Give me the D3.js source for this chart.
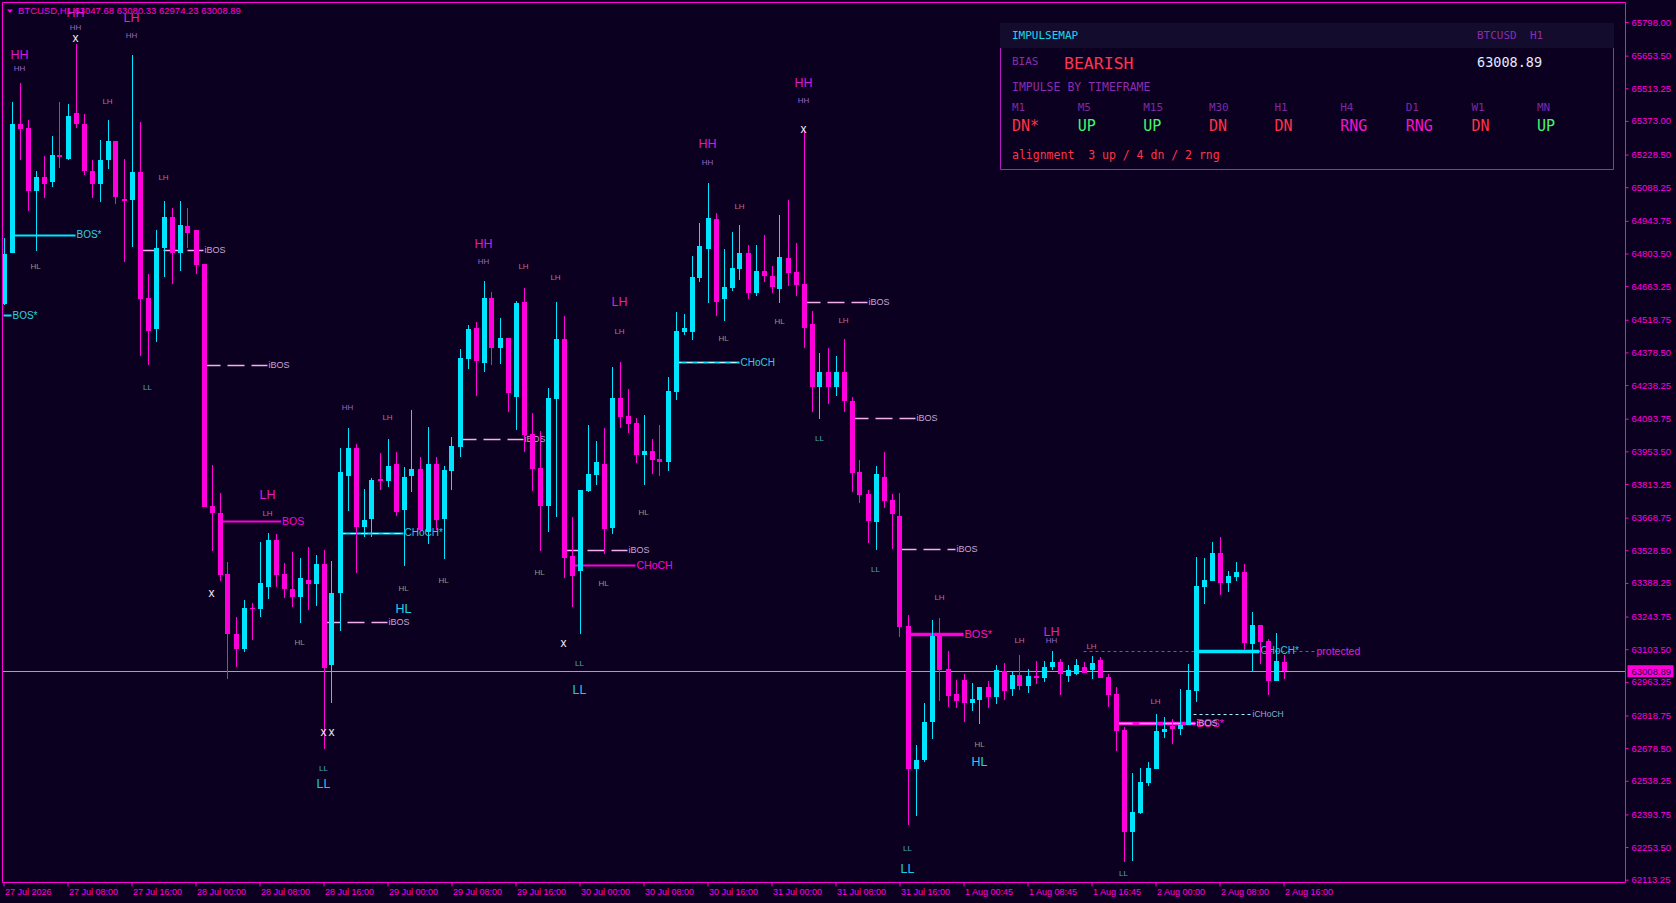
<!DOCTYPE html>
<html>
<head>
<meta charset="utf-8">
<script src="https://cdn.jsdelivr.net/npm/d3@7"></script>
<style>
    html, body { margin: 0; padding: 0; background: #0c0021; overflow: hidden; }
    svg { display: block; }
</style>
</head>
<body>
<svg id="chart" width="1676" height="903"></svg>
<script>
// BTCUSD H1 candles, oldest first
var opens = [64586,64805,65359,65342,65070,65132,65112,65226,65209,65405,65359,65158,65100,65203,65288,65037,65032,65154,64613,64481,
    64825,64960,64804,64921,64905,64758,63718,63688,63427,63169,63106,63282,63278,63371,63572,63425,63361,63326,63400,63385,
    63469,63037,63346,63849,63970,63630,63663,63833,63824,63899,63703,63847,63878,63608,63899,63663,63871,63972,64350,64483,
    64333,64612,64397,64441,64188,64595,64028,63881,63719,64180,64436,63502,63441,63783,63851,63899,63624,64182,64106,64075,
    63936,63955,63921,63907,64209,64466,64466,64698,64822,64951,64608,64656,64737,64805,64635,64729,64706,64651,64784,64724,
    64673,64500,64231,64295,64231,64295,64169,63865,63770,63648,63844,63745,63676,63203,62590,62627,62789,63162,63018,62911,
    62971,62874,62887,62941,62899,63010,62932,62993,62947,62990,62981,63027,63048,62990,62997,63027,63013,63057,62984,62911,
    62756,62320,62401,62529,62589,62748,62774,62761,62778,62925,63371,63396,63517,63388,63414,63435,63127,63207,63139,62968,
    63047.68];
var highs = [64872,65454,65537,65377,65158,65223,65309,65454,65445,65703,65403,65205,65291,65377,65288,65209,65656,65368,64716,64905,
    65030,64998,65030,64998,64905,64758,63895,63774,63478,63241,63315,63301,63564,63603,63597,63474,63521,63496,63543,63508,
    63530,63482,63970,64052,63983,63791,63838,63947,64006,63950,63885,64131,63930,64058,63930,63891,64014,64394,64498,64509,
    64686,64640,64526,64441,64600,64655,64119,64039,64225,64595,64535,63670,63788,64066,63998,64053,64315,64338,64222,64096,
    64109,64007,64066,64272,64552,64544,64792,64935,65107,64977,64822,64895,64926,64840,64840,64883,64749,64969,65034,64848,
    65334,64557,64378,64398,64363,64437,64188,63917,63787,63890,63950,63770,63775,63250,62694,62872,63228,63237,63096,62971,
    62998,62958,62941,62969,63036,63044,63004,63079,63018,63053,63053,63096,63061,63036,63061,63048,63074,63070,62997,62941,
    62768,62570,62592,62617,62824,62811,62804,62932,63040,63500,63495,63564,63585,63439,63478,63469,63263,63207,63147,63173,
    63080.33];
var lows = [64581,64805,65203,64984,64816,65044,65089,65172,65205,65344,65142,65044,65023,65165,65014,64765,64832,64365,64323,64425,
    64704,64674,64730,64828,64716,63716,63524,63397,62975,63027,63090,63143,63243,63318,63372,63322,63283,63218,63274,63291,
    62674,62874,63180,63699,63429,63585,63585,63788,63800,63675,63463,63780,63608,63557,63614,63491,63788,63930,64308,64191,
    64295,64325,64328,64122,64045,63950,63785,63526,63608,63673,63411,63286,63168,63777,63807,63514,63597,64055,64034,63904,
    63808,63856,63848,63871,64174,64455,64431,64681,64590,64535,64514,64644,64690,64608,64621,64681,64635,64590,64663,64621,
    64398,64123,64094,64159,64193,64123,63780,63730,63561,63531,63710,63536,63158,62349,62389,62617,62719,62881,62857,62852,
    62792,62839,62784,62849,62869,62885,62904,62928,62915,62955,62963,63013,62908,62963,62993,63001,62975,62981,62855,62668,
    62191,62195,62395,62517,62589,62722,62696,62735,62778,62877,63299,63396,63336,63349,63396,63100,63007,63041,62908,62968,
    62974.23];
var closes = [64802,65359,65340,65070,65132,65104,65226,65223,65395,65358,65156,65100,65205,65288,65047,65033,65154,64609,64469,64826,
    64960,64804,64926,64890,64756,63716,63687,63424,63169,63106,63280,63278,63389,63573,63424,63360,63326,63408,63385,63469,
    63024,63344,63864,63970,63630,63657,63830,63828,63891,63692,63844,63878,63614,63899,63660,63874,63977,64355,64480,64342,
    64612,64397,64441,64206,64590,64025,63878,63719,64182,64436,63497,63416,63788,63856,63907,63619,64182,64102,64071,63936,
    63955,63918,63907,64212,64471,64484,64703,64835,64956,64597,64660,64741,64805,64635,64729,64706,64660,64789,64719,64668,
    64484,64231,64295,64231,64295,64168,63862,63768,63656,63857,63742,63686,63200,62590,62627,62791,63162,63014,62904,62882,
    62874,62889,62941,62899,63012,62925,62993,62947,62988,62981,63027,63048,62997,63013,63036,63001,63044,62981,62908,62753,
    62320,62403,62531,62592,62752,62761,62761,62778,62928,63375,63401,63517,63388,63418,63435,63131,63207,63136,62967,63053,
    63008.89];

var timeTickBars = [0, 8, 16, 24, 32, 40, 48, 56, 64, 72, 80, 88, 96, 104, 112, 120, 128, 136, 144, 152, 160];
var timeTickLabels = ["27 Jul 2026", "27 Jul 08:00", "27 Jul 16:00", "28 Jul 00:00", "28 Jul 08:00", "28 Jul 16:00",
    "29 Jul 00:00", "29 Jul 08:00", "29 Jul 16:00", "30 Jul 00:00", "30 Jul 08:00", "30 Jul 16:00", "31 Jul 00:00",
    "31 Jul 08:00", "31 Jul 16:00", "1 Aug 00:45", "1 Aug 08:45", "1 Aug 16:45", "2 Aug 00:00", "2 Aug 08:00", "2 Aug 16:00"];

var priceTickLabels = ["65798.00", "65653.50", "65513.25", "65373.00", "65228.50", "65088.25", "64943.75", "64803.50",
    "64663.25", "64518.75", "64378.50", "64238.25", "64093.75", "63953.50", "63813.25", "63668.75", "63528.50", "63388.25",
    "63243.75", "63103.50", "62963.25", "62818.75", "62678.50", "62538.25", "62393.75", "62253.50", "62113.25"];

// swing labels: bar, price, text, kind (b = big, s = small, x = marker)
var swingLabels = [
    [2, 65656, "HH", "b"], [2, 65600, "HH", "s"],
    [9, 65837, "HH", "b"], [9, 65777, "HH", "s"], [9, 65729, "x", "x"],
    [16, 65815, "LH", "b"], [16, 65742, "HH", "s"],
    [13, 65459, "LH", "s"], [4, 64750, "HL", "s"], [20, 65132, "LH", "s"], [18, 64230, "LL", "s"],
    [33, 63766, "LH", "b"], [33, 63689, "LH", "s"], [26, 63345, "x", "x"],
    [43, 64144, "HH", "s"], [48, 64101, "LH", "s"],
    [60, 64845, "HH", "b"], [60, 64771, "HH", "s"], [65, 64750, "LH", "s"],
    [55, 63401, "HL", "s"], [50, 63367, "HL", "s"], [50, 63276, "HL", "b"], [37, 63135, "HL", "s"],
    [40, 62748, "x", "x"], [41, 62748, "x", "x"], [40, 62593, "LL", "s"], [40, 62525, "LL", "b"],
    [67, 63435, "HL", "s"],
    [88, 65274, "HH", "b"], [88, 65197, "HH", "s"], [92, 65008, "LH", "s"], [69, 64703, "LH", "s"],
    [77, 64595, "LH", "b"], [77, 64471, "LH", "s"], [90, 64440, "HL", "s"], [97, 64514, "HL", "s"],
    [80, 63693, "HL", "s"], [75, 63388, "HL", "s"], [70, 63130, "x", "x"],
    [72, 63044, "LL", "s"], [72, 62928, "LL", "b"],
    [100, 65536, "HH", "b"], [100, 65463, "HH", "s"], [100, 65338, "x", "x"],
    [105, 64518, "LH", "s"], [102, 64011, "LL", "s"], [109, 63448, "LL", "s"], [117, 63328, "LH", "s"],
    [122, 62696, "HL", "s"], [122, 62619, "HL", "b"], [113, 62250, "LL", "s"], [113, 62160, "LL", "b"],
    [127, 63143, "LH", "s"], [131, 63178, "LH", "b"], [131, 63143, "HH", "s"], [136, 63117, "LH", "s"],
    [144, 62881, "LH", "s"], [140, 62142, "LL", "s"], [140, 62061, "LL", "b"]
];

// structure breaks: from bar, to bar, price, label, style
var structures = [
    [1, 9, 64883, "BOS*", "solidC"],
    [0, 1, 64539, "BOS*", "solidC"],
    [17, 25, 64818, "iBOS", "dash"],
    [25, 33, 64324, "iBOS", "dash"],
    [27, 34.7, 63654, "BOS", "solidM"],
    [42, 50, 63603, "CHoCH*", "solidC"],
    [42, 50, 63603, "", "dashC"],
    [40, 48, 63220, "iBOS", "dash"],
    [57, 65, 64006, "iBOS", "dash"],
    [70, 78, 63530, "iBOS", "dash"],
    [71, 79, 63465, "CHoCH", "solidM"],
    [84, 92, 64337, "CHoCH", "solidC"],
    [84, 92, 64337, "", "dashC"],
    [100, 108, 64595, "iBOS", "dash"],
    [106, 114, 64097, "iBOS", "dash"],
    [112, 119, 63534, "iBOS", "dash"],
    [113, 120, 63169, "BOS*", "thickM"],
    [135, 164, 63096, "protected", "dotM"],
    [139, 149, 62786, "BOS*", "thickM"],
    [139, 149, 62786, "iBOS", "dash"],
    [149, 157, 63096, "CHoCH*", "thickC"],
    [148, 156, 62825, "iCHoCH", "dotC"]
];

var symbol = "BTCUSD", period = "H1";
var tfNames = ["M1", "M5", "M15", "M30", "H1", "H4", "D1", "W1", "MN"];
var tfImpulse = ["DN*", "UP", "UP", "DN", "DN", "RNG", "RNG", "DN", "UP"];
var bias = "BEARISH";

var CYAN = "#00e5ff", MAGENTA = "#ff00dc", BG = "#0c0021";

var svg = d3.select("#chart"),
    plot = { left: 2.5, top: 2.5, right: 1625.5, bottom: 882.5 },
    last = closes.length - 1,
    x = d3.scaleLinear().domain([0, last]).range([3.5, 1283.5]),
    y = d3.scaleLinear().domain([62113.25, 65798]).range([879.7, 22]),
    candles = opens.map(function (o, i) {
        return { i: i, o: o, h: highs[i], l: lows[i], c: closes[i] };
    });

svg.append("rect").attr("width", 1676).attr("height", 903).attr("fill", BG);

svg.append("clipPath").attr("id", "plotClip")
    .append("rect")
    .attr("x", plot.left).attr("y", plot.top)
    .attr("width", plot.right - plot.left).attr("height", plot.bottom - plot.top);

var g = svg.append("g").attr("clip-path", "url(#plotClip)");

// current price line
g.append("line")
    .attr("x1", plot.left).attr("x2", plot.right)
    .attr("y1", Math.round(y(closes[last])) + 0.5).attr("y2", Math.round(y(closes[last])) + 0.5)
    .attr("stroke", CYAN).attr("stroke-width", 1);

// structure lines
var lineStyle = {
    solidC: { stroke: CYAN, width: 2, dash: null, text: "#2cd0e0", size: 10 },
    thickC: { stroke: CYAN, width: 3.5, dash: null, text: "#2cc8d8", size: 10 },
    dashC: { stroke: "#b8f4ff", width: 1, dash: "6,5", text: CYAN, size: 10 },
    solidM: { stroke: MAGENTA, width: 2, dash: null, text: MAGENTA, size: 10.5 },
    thickM: { stroke: MAGENTA, width: 3.5, dash: null, text: "#ff10c8", size: 11 },
    dash: { stroke: "#f4b0ec", width: 1.3, dash: "17,7", text: "#c8a4d8", size: 9 },
    dotM: { stroke: MAGENTA, width: 1, dash: "3,3", text: "#e020d0", size: 10.5 },
    dotC: { stroke: "#a0f0ff", width: 1, dash: "3,3", text: "#86b4d4", size: 8.5 }
};

var sg = g.append("g").attr("class", "structures");

sg.selectAll(".sg-line")
    .data(structures)
    .enter()
    .append("line")
    .attr("class", "sg-line")
    .attr("x1", function (d) { return x(d[0]); })
    .attr("x2", function (d) { return x(d[1]); })
    .attr("y1", function (d) { return Math.round(y(d[2])) + 0.5; })
    .attr("y2", function (d) { return Math.round(y(d[2])) + 0.5; })
    .attr("stroke", function (d) { return lineStyle[d[4]].stroke; })
    .attr("stroke-width", function (d) { return lineStyle[d[4]].width; })
    .attr("stroke-dasharray", function (d) { return lineStyle[d[4]].dash; });

// candles
var cg = g.append("g").attr("class", "candles");

cg.selectAll(".wick")
    .data(candles)
    .enter()
    .append("line")
    .attr("class", "wick")
    .attr("x1", function (d) { return Math.round(x(d.i)) + 0.5; })
    .attr("x2", function (d) { return Math.round(x(d.i)) + 0.5; })
    .attr("y1", function (d) { return y(d.h); })
    .attr("y2", function (d) { return y(d.l); })
    .attr("stroke", function (d) { return d.c >= d.o ? CYAN : MAGENTA; })
    .attr("stroke-width", 1)
    .attr("shape-rendering", "crispEdges");

cg.selectAll(".body")
    .data(candles)
    .enter()
    .append("rect")
    .attr("class", "body")
    .attr("x", function (d) { return Math.round(x(d.i)) - 2; })
    .attr("width", 5)
    .attr("y", function (d) { return y(Math.max(d.o, d.c)); })
    .attr("height", function (d) { return Math.max(1.5, Math.abs(y(d.o) - y(d.c))); })
    .attr("fill", function (d) { return d.c >= d.o ? CYAN : MAGENTA; })
    .attr("shape-rendering", "crispEdges");

// structure labels
sg.selectAll(".sg-label")
    .data(structures.filter(function (d) { return d[3] !== ""; }))
    .enter()
    .append("text")
    .attr("class", "sg-label")
    .attr("x", function (d) { return x(d[1]) + 1; })
    .attr("y", function (d) { return y(d[2]); })
    .attr("dy", "0.35em")
    .attr("fill", function (d) { return lineStyle[d[4]].text; })
    .style("font-family", "'Liberation Sans', Arial, sans-serif")
    .style("font-size", function (d) { return lineStyle[d[4]].size + "px"; })
    .text(function (d) { return d[3]; });

// swing labels
var smallColor = { HH: "#9466c4", LH: "#b86c92", HL: "#8e9c72", LL: "#4aa6bc" },
    bigColor = { HH: "#d81ad8", LH: "#e41ccc", HL: "#1cd2ea", LL: "#1cc8e6" };

g.selectAll(".swing")
    .data(swingLabels)
    .enter()
    .append("text")
    .attr("class", "swing")
    .attr("x", function (d) { return x(d[0]); })
    .attr("y", function (d) { return y(d[1]); })
    .attr("dy", "0.35em")
    .style("text-anchor", "middle")
    .style("font-family", "'Liberation Sans', Arial, sans-serif")
    .style("font-size", function (d) { return d[3] === "b" ? "12.5px" : d[3] === "x" ? "12px" : "8px"; })
    .attr("fill", function (d) {
        if (d[3] === "x") { return "#f2eaf4"; }
        return d[3] === "b" ? bigColor[d[2]] : smallColor[d[2]];
    })
    .text(function (d) { return d[2]; });

// frame and price axis
var frame = svg.append("g").attr("stroke", MAGENTA).attr("stroke-width", 1).attr("fill", "none");
frame.append("path")
    .attr("d", "M" + plot.right + "," + plot.top + "H" + plot.left + "V" + plot.bottom + "H" + plot.right + "V" + plot.top);

var yAxis = d3.axisRight(y)
    .tickValues(priceTickLabels.map(Number))
    .tickSize(3)
    .tickPadding(3)
    .tickFormat(function (v, i) { return priceTickLabels[i]; });

svg.append("g")
    .attr("transform", "translate(" + plot.right + ",0)")
    .call(yAxis)
    .call(function (a) {
        a.select(".domain").remove();
        a.selectAll("line").attr("stroke", MAGENTA);
        a.selectAll("text").attr("fill", MAGENTA)
            .style("font-family", "'Liberation Sans', Arial, sans-serif")
            .style("font-size", "9.5px");
    });

// last price tag
var tag = svg.append("g").attr("transform", "translate(" + (plot.right + 2) + "," + y(closes[last]) + ")");
tag.append("rect").attr("x", 0).attr("y", -6).attr("width", 46).attr("height", 12).attr("fill", MAGENTA);
tag.append("text").attr("x", 4).attr("dy", "0.35em").attr("fill", "#2a0040")
    .style("font-family", "'Liberation Sans', Arial, sans-serif").style("font-size", "9.5px")
    .text(closes[last].toFixed(2));

// time axis
var xAxis = d3.axisBottom(x)
    .tickValues(timeTickBars)
    .tickSize(4)
    .tickPadding(2)
    .tickFormat(function (v, i) { return timeTickLabels[i]; });

svg.append("g")
    .attr("transform", "translate(0," + plot.bottom + ")")
    .call(xAxis)
    .call(function (a) {
        a.select(".domain").remove();
        a.selectAll("line").attr("stroke", MAGENTA);
        a.selectAll("text").attr("fill", MAGENTA)
            .style("text-anchor", "start")
            .attr("x", 1)
            .style("font-family", "'Liberation Sans', Arial, sans-serif")
            .style("font-size", "9px");
    });

// header
var head = svg.append("g").style("font-family", "'Liberation Sans', Arial, sans-serif");
head.append("path").attr("d", "M7,9.5L13,9.5L10,13Z").attr("fill", MAGENTA);
head.append("text").attr("x", 18).attr("y", 11).attr("dy", "0.35em").attr("fill", MAGENTA)
    .style("font-size", "9.5px")
    .text(symbol + "," + period + "  " + [opens[last], highs[last], lows[last], closes[last]].map(function (v) { return v.toFixed(2); }).join(" "));

// impulse panel
var panel = svg.append("g").style("font-family", "'DejaVu Sans Mono', monospace"),
    px0 = 1000.5, px1 = 1613.5, headTop = 23, headBot = 48, pBot = 169.5,
    col = d3.scaleLinear().domain([0, tfNames.length - 1]).range([1012, 1537]);

panel.append("path")
    .attr("d", "M" + px0 + "," + headBot + "V" + pBot + "H" + px1 + "V" + headBot)
    .attr("fill", BG).attr("stroke", "#b41cc4").attr("stroke-width", 1);
panel.append("rect").attr("x", 1000).attr("y", headTop).attr("width", px1 - 1000 + 0.5).attr("height", headBot - headTop)
    .attr("fill", "#130c2c");

function ptext(tx, ty, size, color, str) {
    return panel.append("text").attr("x", tx).attr("y", ty).attr("dy", "0.35em")
        .attr("fill", color).style("font-size", size + "px").style("white-space", "pre").text(str);
}

ptext(1012, 35.5, 11, "#1ed6ec", "IMPULSEMAP");
ptext(1477, 35.5, 11, "#8a2eae", symbol + "  " + period);
ptext(1012, 61, 11, "#8a2eae", "BIAS");
ptext(1064, 63, 16.5, "#ff3452", bias);
ptext(1477, 62, 13.5, "#e4eaff", closes[last].toFixed(2));
ptext(1012, 87, 11.5, "#8a2eae", "IMPULSE BY TIMEFRAME");

var impulseColor = function (v) {
    if (v.indexOf("UP") === 0) { return "#42f76a"; }
    if (v.indexOf("DN") === 0) { return "#ff3448"; }
    return "#f214d2";
};

panel.selectAll(".tf-name")
    .data(tfNames)
    .enter()
    .append("text")
    .attr("class", "tf-name")
    .attr("x", function (d, i) { return col(i); })
    .attr("y", 107).attr("dy", "0.35em")
    .attr("fill", "#7c2aa2").style("font-size", "11px")
    .text(function (d) { return d; });

panel.selectAll(".tf-val")
    .data(tfImpulse)
    .enter()
    .append("text")
    .attr("class", "tf-val")
    .attr("x", function (d, i) { return col(i); })
    .attr("y", 126).attr("dy", "0.35em")
    .attr("fill", impulseColor).style("font-size", "15px")
    .text(function (d) { return d; });

var nUp = tfImpulse.filter(function (v) { return v.indexOf("UP") === 0; }).length,
    nDn = tfImpulse.filter(function (v) { return v.indexOf("DN") === 0; }).length,
    nRng = tfImpulse.length - nUp - nDn;
ptext(1012, 155, 11.5, "#ff3448", "alignment  " + nUp + " up / " + nDn + " dn / " + nRng + " rng");
</script>
</body>
</html>
